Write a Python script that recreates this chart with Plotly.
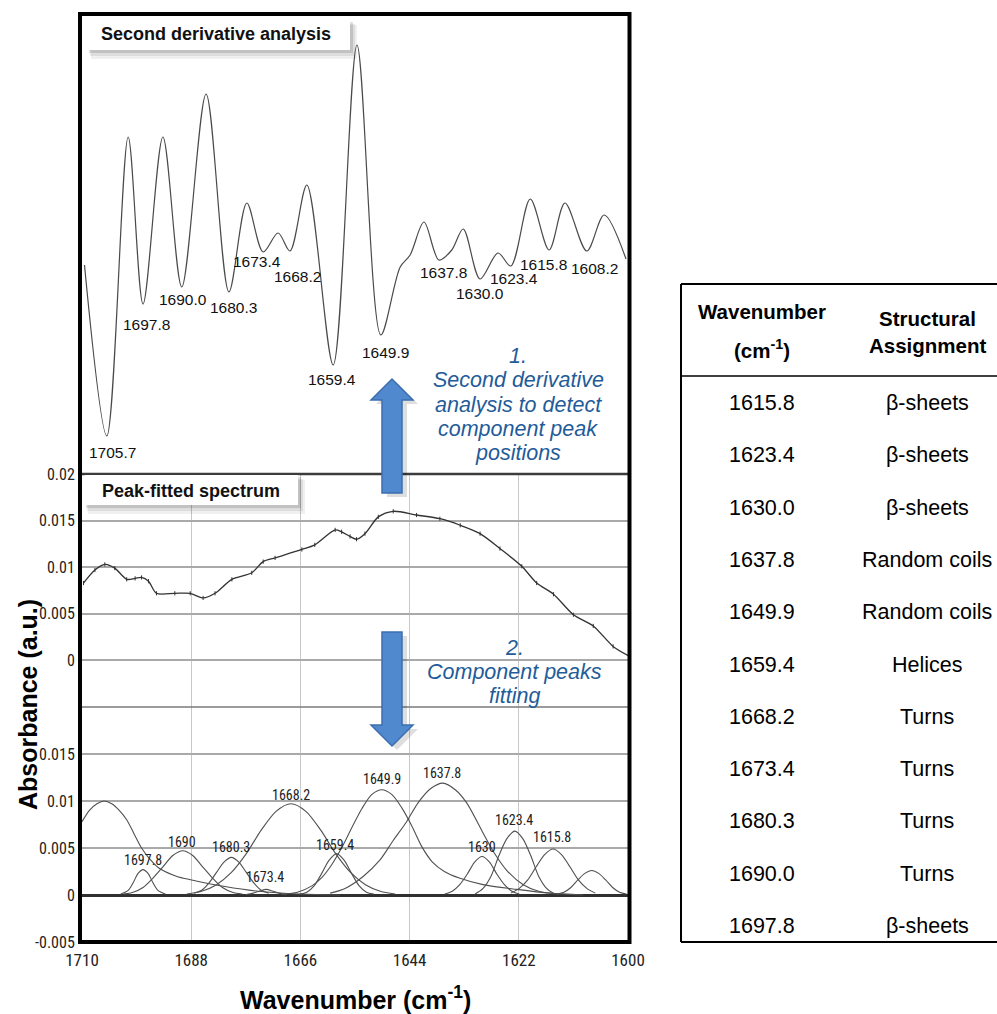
import plotly.graph_objects as go

W, H = 997, 1014


def px(x):
    return x / W


def py(y):
    return 1 - y / H


# ---------------- DATA ----------------
# Second-derivative spectrum (arbitrary units), wavenumber in cm-1
d2_wn = [1709.5, 1705.0, 1700.7, 1697.7, 1693.7, 1689.9, 1685.0, 1680.4, 1676.8, 1673.5,
         1670.5, 1668.1, 1664.7, 1659.4, 1654.6, 1649.8, 1645.9, 1643.9, 1641.1, 1638.1,
         1635.5, 1633.2, 1629.8, 1626.2, 1623.6, 1619.7, 1615.9, 1612.7, 1608.3, 1604.8, 1600.4]
d2_val = [-0.01, -1.72, 1.27, -0.40, 1.27, -0.23, 1.70, -0.28, 0.61, 0.12,
          0.31, 0.13, 0.79, -1.01, 2.19, -0.71, -0.03, 0.09, 0.42, 0.04,
          0.14, 0.35, -0.15, 0.11, -0.02, 0.65, 0.14, 0.61, 0.13, 0.49, 0.05]
d2_labels = ["1705.7", "1697.8", "1690.0", "1680.3", "1673.4", "1668.2", "1659.4",
             "1649.9", "1637.8", "1630.0", "1623.4", "1615.8", "1608.2"]

# Measured absorbance spectrum
abs_wn = [1709.7, 1707.4, 1705.4, 1703.4, 1701.0, 1699.3, 1698.0, 1696.6, 1695.0, 1691.3,
          1688.2, 1685.6, 1683.2, 1679.8, 1675.8, 1673.5, 1671.1, 1665.7, 1663.1, 1659.0,
          1657.7, 1656.0, 1654.7, 1653.0, 1650.3, 1647.3, 1642.6, 1637.9, 1633.8, 1629.8,
          1625.8, 1621.4, 1618.4, 1615.0, 1611.0, 1607.0, 1603.0, 1599.9]
abs_val = [0.0083, 0.0097, 0.0103, 0.0099, 0.0087, 0.0088, 0.0089, 0.0085, 0.0072, 0.0072,
           0.0072, 0.0067, 0.0072, 0.0087, 0.0094, 0.0106, 0.0110, 0.0119, 0.0124, 0.0140,
           0.0138, 0.0133, 0.0130, 0.0136, 0.0154, 0.0160, 0.0156, 0.0152, 0.0145, 0.0136,
           0.0120, 0.0101, 0.0083, 0.0071, 0.0049, 0.0037, 0.0015, 0.0005]

# Fitted component bands (wavenumber, absorbance)
c1705_x = [1710, 1708.5, 1707.0, 1705.5, 1704.0, 1702.5, 1701.0, 1699.5, 1698.0, 1696.3,
           1694.6, 1691.0, 1687.9, 1681.2, 1674.5, 1666.0, 1658.0]
c1705_y = [0.0078, 0.0090, 0.0097, 0.0100, 0.0097, 0.0090, 0.0080, 0.0065, 0.0050, 0.0038,
           0.0029, 0.0020, 0.0016, 0.0009, 0.0004, 0.0001, 0.0]
c1697_x = [1702.2, 1700.7, 1699.7, 1698.7, 1697.7, 1696.7, 1695.7, 1694.7, 1693.2]
c1697_y = [0.0001, 0.0005, 0.0013, 0.0023, 0.0027, 0.0023, 0.0013, 0.0005, 0.0001]
c1690_x = [1701.7, 1699.7, 1697.7, 1695.7, 1693.7, 1691.7, 1689.7, 1687.7, 1685.7, 1683.7,
           1681.7, 1679.7, 1677.7]
c1690_y = [0.0001, 0.0003, 0.0008, 0.0018, 0.0030, 0.0042, 0.0047, 0.0042, 0.0030, 0.0018,
           0.0008, 0.0003, 0.0001]
c1680_x = [1687.4, 1685.9, 1684.4, 1682.9, 1681.4, 1679.9, 1678.4, 1676.9, 1675.4, 1673.9, 1672.4]
c1680_y = [0.0002, 0.0005, 0.0013, 0.0024, 0.0035, 0.0040, 0.0035, 0.0024, 0.0013, 0.0005, 0.0002]
c1673_x = [1677.0, 1675.5, 1674.3, 1672.9, 1671.5, 1670.3, 1668.8]
c1673_y = [0.00003, 0.0002, 0.0004, 0.0006, 0.0004, 0.0002, 0.00003]
c1668_x = [1688.9, 1685.9, 1682.9, 1679.9, 1676.9, 1673.9, 1670.9, 1667.9, 1664.9, 1661.9,
           1658.9, 1655.9, 1652.9, 1649.9, 1646.9]
c1668_y = [0.0001, 0.0004, 0.0011, 0.0024, 0.0044, 0.0069, 0.0089, 0.0097, 0.0089, 0.0069,
           0.0044, 0.0024, 0.0011, 0.0004, 0.0001]
c1659_x = [1666.2, 1664.7, 1663.2, 1661.7, 1660.2, 1658.7, 1657.2, 1655.7, 1654.2, 1652.7, 1651.2]
c1659_y = [0.0001, 0.0003, 0.0010, 0.0023, 0.0037, 0.0044, 0.0037, 0.0023, 0.0010, 0.0003, 0.0001]
c1649_x = [1669.6, 1666.6, 1663.6, 1661.6, 1659.6, 1657.6, 1655.6, 1653.6, 1651.6, 1649.6,
           1647.6, 1645.6, 1643.6, 1641.6, 1639.4, 1637.0, 1634.0, 1629.2, 1622.4, 1615.7, 1609.0]
c1649_y = [0.0001, 0.0003, 0.0010, 0.0019, 0.0033, 0.0051, 0.0072, 0.0092, 0.0107, 0.0112,
           0.0107, 0.0093, 0.0074, 0.0052, 0.0035, 0.0025, 0.0018, 0.0011, 0.0006, 0.0002, 0.0]
c1637_x = [1660.0, 1657.0, 1653.3, 1650.0, 1647.3, 1644.6, 1642.3, 1639.8, 1637.3, 1634.8,
           1632.5, 1629.2, 1627.1, 1624.4, 1621.1, 1618.0, 1614.0]
c1637_y = [0.0002, 0.0007, 0.0020, 0.0037, 0.0058, 0.0078, 0.0098, 0.0113, 0.0119, 0.0112,
           0.0098, 0.0066, 0.0046, 0.0026, 0.0011, 0.0004, 0.0001]
c1630_x = [1636.9, 1635.4, 1633.9, 1632.4, 1630.9, 1629.4, 1627.9, 1626.4, 1624.9, 1623.4, 1621.9]
c1630_y = [0.0001, 0.0004, 0.0011, 0.0022, 0.0035, 0.0041, 0.0035, 0.0022, 0.0011, 0.0004, 0.0001]
c1623_x = [1630.8, 1629.2, 1627.6, 1626.0, 1624.4, 1622.8, 1621.2, 1619.6, 1618.0, 1616.4, 1614.8]
c1623_y = [0.0001, 0.0007, 0.0020, 0.0042, 0.0060, 0.0068, 0.0060, 0.0042, 0.0020, 0.0007, 0.0001]
c1615_x = [1623.6, 1621.9, 1620.2, 1618.5, 1616.8, 1615.1, 1613.4, 1611.7, 1610.0, 1608.3, 1606.6]
c1615_y = [0.0002, 0.0007, 0.0016, 0.0030, 0.0043, 0.0049, 0.0043, 0.0030, 0.0016, 0.0007, 0.0002]
c1608_x = [1614.3, 1612.9, 1611.5, 1610.1, 1608.7, 1607.3, 1605.9, 1604.5, 1603.1, 1601.7, 1600.3]
c1608_y = [0.0001, 0.0003, 0.0008, 0.0016, 0.0023, 0.0026, 0.0023, 0.0016, 0.0008, 0.0003, 0.0001]

fit_labels = ["1697.8", "1690", "1680.3", "1673.4", "1668.2", "1659.4",
              "1649.9", "1637.8", "1630", "1623.4", "1615.8"]

# Axis ticks
x_ticks = [1710, 1688, 1666, 1644, 1622, 1600]
mid_ticks = [0, 0.005, 0.01, 0.015, 0.02]
mid_ticktext = ["0", "0.005", "0.01", "0.015", "0.02"]
low_ticks = [-0.005, 0, 0.005, 0.01, 0.015]
low_ticktext = ["-0.005", "0", "0.005", "0.01", "0.015"]

# Table
table_wn = ["1615.8", "1623.4", "1630.0", "1637.8", "1649.9", "1659.4",
            "1668.2", "1673.4", "1680.3", "1690.0", "1697.8"]
table_assign = ["β-sheets", "β-sheets", "β-sheets", "Random coils", "Random coils", "Helices",
                "Turns", "Turns", "Turns", "Turns", "β-sheets"]

# ---------------- STYLE ----------------
SANS = "Liberation Sans, Arial, sans-serif"
NARROW = "Liberation Sans Narrow, Arial Narrow, Roboto Condensed, DejaVu Sans Condensed, Liberation Sans, sans-serif"
BLUE_TXT = "#1f5c99"
CURVE = "#4a4a4a"

fig = go.Figure()

fig.add_trace(go.Scatter(x=d2_wn, y=d2_val, mode="lines", xaxis="x", yaxis="y",
                         line=dict(color=CURVE, width=1.2, shape="spline", smoothing=0.9),
                         hoverinfo="skip", showlegend=False))

fig.add_trace(go.Scatter(x=abs_wn, y=abs_val, mode="lines+markers", xaxis="x2", yaxis="y2",
                         line=dict(color="#333333", width=1.3, shape="spline", smoothing=0.8),
                         marker=dict(symbol="line-ns-open", size=3, color="#333333",
                                     line=dict(width=1, color="#333333")),
                         hoverinfo="skip", showlegend=False))

components = [(c1705_x, c1705_y), (c1697_x, c1697_y), (c1690_x, c1690_y), (c1680_x, c1680_y),
              (c1673_x, c1673_y), (c1668_x, c1668_y), (c1659_x, c1659_y), (c1649_x, c1649_y),
              (c1637_x, c1637_y), (c1630_x, c1630_y), (c1623_x, c1623_y), (c1615_x, c1615_y),
              (c1608_x, c1608_y)]
for cx, cy in components:
    fig.add_trace(go.Scatter(x=cx, y=cy, mode="lines", xaxis="x3", yaxis="y3",
                             line=dict(color="#505050", width=1.1, shape="spline", smoothing=0.8),
                             hoverinfo="skip", showlegend=False))

tickfont = dict(family=NARROW, size=16, color="#222222")
xdom = [px(82), px(628)]
common = dict(automargin=False)
ytick_style = dict(ticks="outside", ticklen=3, tickwidth=1.2, tickcolor="#777777")

fig.update_layout(
    template="none",
    width=W, height=H, autosize=False,
    margin=dict(l=0, r=0, t=0, b=0, pad=0, autoexpand=False),
    paper_bgcolor="white", plot_bgcolor="white",
    showlegend=False,
    xaxis=dict(domain=xdom, range=[1710, 1600], anchor="y", visible=False, **common),
    yaxis=dict(domain=[py(474), py(14)], range=[-2.1, 2.5], visible=False, **common),
    xaxis2=dict(domain=xdom, range=[1710, 1600], anchor="y2", tickvals=x_ticks,
                showticklabels=False, showgrid=True, gridcolor="#c8c8c8", gridwidth=1,
                zeroline=False, showline=False, ticks="", **common),
    yaxis2=dict(domain=[py(707), py(474)], range=[-0.005, 0.02], anchor="x2",
                tickvals=mid_ticks, ticktext=mid_ticktext, tickfont=tickfont,
                showgrid=True, gridcolor="#a9a9a9", gridwidth=2, zeroline=False, showline=False,
                **ytick_style, **common),
    yaxis4=dict(overlaying="y2", side="right", anchor="x2", range=[-0.005, 0.02],
                tickvals=mid_ticks, ticktext=mid_ticktext, tickfont=tickfont,
                showgrid=False, zeroline=False, showline=False,
                **ytick_style, **common),
    xaxis3=dict(domain=xdom, range=[1710, 1600], anchor="y3", tickvals=x_ticks,
                ticktext=[str(v) for v in x_ticks],
                tickfont=dict(family=NARROW, size=17, color="#222222"),
                showgrid=True, gridcolor="#c8c8c8", gridwidth=1,
                zeroline=False, showline=False,
                ticks="outside", ticklen=3, tickcolor="rgba(0,0,0,0)", **common),
    yaxis3=dict(domain=[py(942), py(707)], range=[-0.005, 0.02], anchor="x3",
                tickvals=low_ticks, ticktext=low_ticktext, tickfont=tickfont,
                showgrid=True, gridcolor="#a9a9a9", gridwidth=2, showline=False,
                zeroline=True, zerolinecolor="#303030", zerolinewidth=2.5,
                **ytick_style, **common),
    yaxis5=dict(overlaying="y3", side="right", anchor="x3", range=[-0.005, 0.02],
                tickvals=low_ticks, ticktext=low_ticktext, tickfont=tickfont,
                showgrid=False, zeroline=False, showline=False,
                **ytick_style, **common),
)

shapes = []
annotations = []


def rect(x0, y0, x1, y1, fill, line_color=None, lw=0, opacity=1.0):
    shapes.append(dict(type="rect", xref="paper", yref="paper",
                       x0=px(x0), x1=px(x1), y0=py(y1), y1=py(y0),
                       fillcolor=fill, opacity=opacity,
                       line=dict(width=lw, color=line_color or fill)))


def hline(x0, x1, y, color, width):
    shapes.append(dict(type="line", xref="paper", yref="paper",
                       x0=px(x0), x1=px(x1), y0=py(y), y1=py(y),
                       line=dict(color=color, width=width)))


def vline(x, y0, y1, color, width):
    shapes.append(dict(type="line", xref="paper", yref="paper",
                       x0=px(x), x1=px(x), y0=py(y0), y1=py(y1),
                       line=dict(color=color, width=width)))


def text(x, y, s, size, family=SANS, color="#111111", xanchor="center", angle=0):
    annotations.append(dict(x=px(x), y=py(y), xref="paper", yref="paper", text=s,
                            showarrow=False, xanchor=xanchor, yanchor="middle",
                            textangle=angle,
                            font=dict(family=family, size=size, color=color)))


def path(points):
    s = "M " + " L ".join(f"{px(a):.5f},{py(b):.5f}" for a, b in points) + " Z"
    return s


# panel separators
hline(80, 630, 474, "#3c3c3c", 2.5)
hline(80, 630, 707, "#7a7a7a", 1.5)

# label boxes with soft shadows
for (x0, y0, x1, y1) in [(88, 20, 350, 50), (85, 475, 298, 505)]:
    rect(x0 + 3, y0 + 5, x1 + 7, y1 + 9, "#000000", opacity=0.06)
    rect(x0 + 2, y0 + 4, x1 + 5, y1 + 6, "#000000", opacity=0.08)
    rect(x0 + 1, y0 + 2, x1 + 3, y1 + 3, "#000000", opacity=0.12)
    rect(x0, y0, x1, y1, "#ffffff")
text(216, 34, "<b>Second derivative analysis</b>", 18)
text(191, 491, "<b>Peak-fitted spectrum</b>", 18)

# arrows (with shadows)
up = [(382, 493), (382, 400), (371, 400), (392, 379), (413, 400), (402, 400), (402, 493)]
down = [(382, 632), (402, 632), (402, 725), (413, 725), (392, 746), (371, 725), (382, 725)]
for pts in (up, down):
    shapes.append(dict(type="path", xref="paper", yref="paper",
                       path=path([(a + 5, b + 4) for a, b in pts]),
                       fillcolor="rgba(0,0,0,0.13)", line=dict(width=0)))
    shapes.append(dict(type="path", xref="paper", yref="paper", path=path(pts),
                       fillcolor="#5089cd", line=dict(color="#3d6eb0", width=1.5)))

# frame
shapes.append(dict(type="rect", xref="paper", yref="paper",
                   x0=px(80), x1=px(629.5), y0=py(942), y1=py(14),
                   line=dict(color="#000000", width=4), fillcolor="rgba(0,0,0,0)"))

# table lines
hline(681, 997, 284, "#000000", 2)
hline(681, 997, 376, "#000000", 1.5)
hline(681, 997, 942, "#000000", 2)
vline(681, 284, 942, "#000000", 2)

# second-derivative labels (pixel positions of the label centres)
d2_label_pos = [(112, 453), (146, 324), (183, 299), (233, 307), (257, 261), (297, 276),
                (332, 379), (385, 352), (443, 272), (480, 293), (514, 278), (543, 264),
                (594, 268)]
for lab, (lx, ly) in zip(d2_labels, d2_label_pos):
    text(lx, ly, lab, 15.5, color="#111111")

# fitted component labels
fit_label_pos = [(143, 860), (182, 842), (231, 847), (265, 877), (291, 795), (335, 845),
                 (382, 779), (442, 773), (482, 847), (514, 820), (552, 837)]
for lab, (lx, ly) in zip(fit_labels, fit_label_pos):
    text(lx, ly, lab, 14, family=NARROW, color="#222222")

# blue step texts
for s, (tx, ty) in zip(["1.", "Second derivative", "analysis to detect", "component peak", "positions"],
                       [(518, 356), (518, 380), (518, 405), (518, 429), (518, 453)]):
    text(tx, ty, f"<i>{s}</i>", 21.5, color=BLUE_TXT)
for s, (tx, ty) in zip(["2.", "Component peaks", "fitting"],
                       [(514, 648), (514, 672), (514, 696)]):
    text(tx, ty, f"<i>{s}</i>", 21.5, color=BLUE_TXT)

# axis titles
text(28, 705, "<b>Absorbance (a.u.)</b>", 25, angle=-90, color="#000000")
text(355, 998, "<b>Wavenumber (cm<sup>-1</sup>)</b>", 25, color="#000000")

# table header and body
text(762, 311, "<b>Wavenumber</b>", 20.5, color="#000000")
text(762, 349, "<b>(cm<sup>-1</sup>)</b>", 20.5, color="#000000")
text(927, 318, "<b>Structural</b>", 20.5, color="#000000")
text(927, 345, "<b>Assignment</b>", 20.5, color="#000000")
for i, (wn, asg) in enumerate(zip(table_wn, table_assign)):
    yrow = 403 + 52.3 * i
    text(762, yrow, wn, 21.5, color="#000000")
    text(927, yrow, asg, 21.5, color="#000000")

fig.update_layout(shapes=shapes, annotations=annotations)
fig.write_html("out.html", config={"displayModeBar": False},
               post_script="document.body.style.margin='0px';document.body.style.padding='0px';"
                           "document.documentElement.style.overflow='hidden';")
